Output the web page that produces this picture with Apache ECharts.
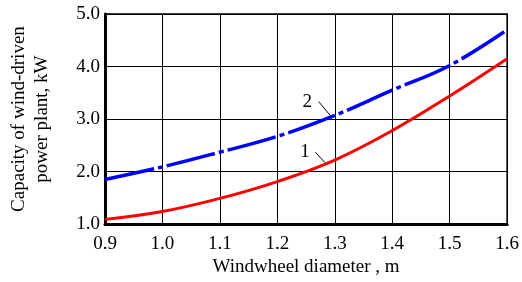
<!DOCTYPE html>
<html>
<head>
<meta charset="utf-8">
<script src="https://cdn.jsdelivr.net/npm/echarts@6/dist/echarts.min.js"></script>
<style>
  html, body { margin: 0; padding: 0; background: #fff; }
  #chart { width: 522px; height: 282px; }
</style>
</head>
<body>
<div id="chart"></div>
<script>
  // 风轮直径 (m)
  const diameters = [0.9, 1.0, 1.1, 1.2, 1.3, 1.4, 1.5, 1.6]
  // curve 1 (red, solid)
  const power1 = [1.09, 1.24, 1.49, 1.81, 2.22, 2.78, 3.44, 4.15]
  // curve 2 (blue, dash-dot)
  const power2 = [1.85, 2.09, 2.37, 2.67, 3.07, 3.55, 4.02, 4.70]
  const yTicks = [1, 2, 3, 4, 5]

  const serif = 'Liberation Serif'

  const toPairs = (xs, ys) => xs.map((x, i) => [x, ys[i]])

  // curve number labels with their leader lines (data coords)
  const callout = (text, textAt, from, to) => ({
    markPoint: {
      symbol: 'circle',
      symbolSize: 0,
      silent: true,
      label: {
        show: true,
        formatter: text,
        color: '#000',
        fontFamily: serif,
        fontSize: 19
      },
      data: [{ coord: textAt }]
    },
    markLine: {
      symbol: 'none',
      silent: true,
      label: { show: false },
      lineStyle: { color: '#000', width: 1, type: 'solid' },
      data: [[{ coord: from }, { coord: to }]]
    }
  })

  let myChart = echarts.init(document.getElementById('chart'))

  const option = {
    animation: false,
    grid: {
      left: 90,
      right: 12,
      top: 14,
      bottom: 55,
      show: true,
      borderColor: '#000',
      borderWidth: 1.5
    },
    xAxis: {
      type: 'value',
      min: 0.9,
      max: 1.6,
      interval: 0.1,
      name: 'Windwheel diameter , m',
      nameLocation: 'middle',
      nameGap: 32,
      nameTextStyle: { fontFamily: serif, fontSize: 19, color: '#000' },
      axisLine: { show: true, onZero: false, lineStyle: { color: '#000', width: 3 } },
      axisTick: { show: false },
      axisLabel: {
        margin: 10,
        fontFamily: serif,
        fontSize: 19,
        color: '#000',
        formatter: v => v.toFixed(1)
      },
      splitLine: { show: true, lineStyle: { color: '#000', width: 1 } }
    },
    yAxis: {
      type: 'value',
      min: yTicks[0],
      max: yTicks[yTicks.length - 1],
      interval: 1,
      name: 'Capacity of wind-driven\npower plant, kW',
      nameLocation: 'middle',
      nameGap: 51,
      nameTextStyle: { fontFamily: serif, fontSize: 19, color: '#000', lineHeight: 23 },
      axisLine: { show: true, onZero: false, lineStyle: { color: '#000', width: 3 } },
      axisTick: { show: false },
      axisLabel: {
        margin: 5,
        fontFamily: serif,
        fontSize: 19,
        color: '#000',
        formatter: v => v.toFixed(1)
      },
      splitLine: { show: true, lineStyle: { color: '#000', width: 1 } }
    },
    series: [
      Object.assign({
        name: '1',
        type: 'line',
        smooth: 0.4,
        showSymbol: false,
        lineStyle: { color: '#ff0000', width: 3 },
        data: toPairs(diameters, power1)
      }, callout('1', [1.248, 2.37], [1.266, 2.37], [1.283, 2.17])),
      Object.assign({
        name: '2',
        type: 'line',
        smooth: 0.4,
        showSymbol: false,
        lineStyle: { color: '#0000ff', width: 3.5, type: [50, 4, 5, 4] },
        data: toPairs(diameters, power2)
      }, callout('2', [1.252, 3.33], [1.272, 3.33], [1.292, 3.07]))
    ]
  }

  myChart.setOption(option)
</script>
</body>
</html>
